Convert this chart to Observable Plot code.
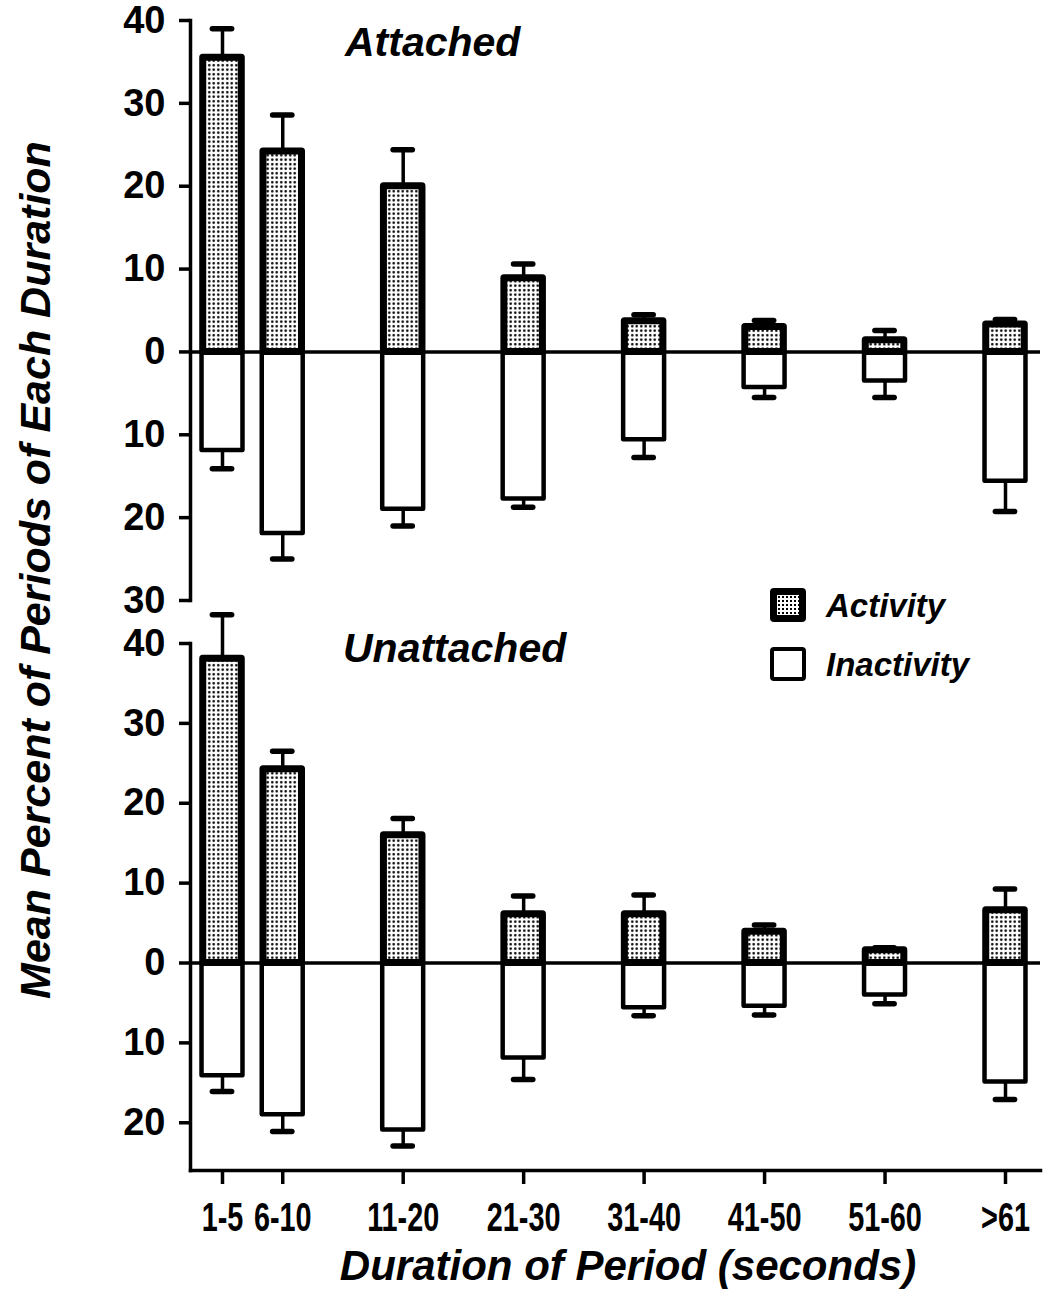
<!DOCTYPE html>
<html><head><meta charset="utf-8">
<script src="https://cdn.jsdelivr.net/npm/d3@7"></script>
<script src="https://cdn.jsdelivr.net/npm/@observablehq/plot@0.6"></script>
<style>
body{margin:0;background:#fff;}
#wrap{position:relative;width:1055px;height:1296px;background:#fff;overflow:hidden;}
.abs{position:absolute;white-space:nowrap;line-height:1;color:#000;}
.ttl{font-family:"Liberation Sans",Arial,sans-serif;font-style:italic;font-weight:600;}
.sw{position:absolute;box-sizing:border-box;border:4.5px solid #000;border-radius:4px;background:#fff;}
.sw.act{border-width:7px;background:radial-gradient(circle,#000 0.9px,transparent 1.4px) 0 0/4px 4px,#fff;}
</style></head><body>
<svg width="0" height="0" style="position:absolute"><defs>
<pattern id="dots" width="4.5" height="4.5" patternUnits="userSpaceOnUse">
<rect width="4.5" height="4.5" fill="#fff"/><circle cx="2.25" cy="2.25" r="1.25" fill="#000"/></pattern></defs></svg>
<div id="wrap"></div>
<script>
// ---- data ----
const categories = ["1-5","6-10","11-20","21-30","31-40","41-50","51-60",">61"];
const durationPos = [5,10,20,30,40,50,60,70];
const attachedActivity      = [35.5,24.2,20.0,8.9,3.7,3.0,1.4,3.3];
const attachedActivityErr   = [39.0,28.6,24.4,10.6,4.5,3.8,2.6,3.9];
const attachedInactivity    = [11.9,21.9,19.0,17.75,10.6,4.3,3.5,15.6];
const attachedInactivityErr = [14.1,25.0,21.0,18.75,12.75,5.5,5.5,19.25];
const unattachedActivity      = [38.1,24.25,16.0,6.1,6.1,3.9,1.6,6.6];
const unattachedActivityErr   = [43.6,26.5,18.1,8.4,8.5,4.75,1.9,9.25];
const unattachedInactivity    = [14.1,19.0,20.9,11.9,5.6,5.4,4.0,14.9];
const unattachedInactivityErr = [16.1,21.1,22.9,14.6,6.6,6.5,5.1,17.1];
const topTicks = [-30,-20,-10,0,10,20,30,40];
const bottomTicks = [-20,-10,0,10,20,30,40];

const wrap = document.getElementById("wrap");
const tickFont = '"Liberation Sans",Arial,sans-serif';

function rowsFor(act, actErr, inact, inactErr){
  return categories.flatMap((c,i)=>[
    {cat:c,pos:durationPos[i],type:"Activity",v:act[i],e:actErr[i]},
    {cat:c,pos:durationPos[i],type:"Inactivity",v:-inact[i],e:-inactErr[i]}
  ]);
}

function panel({rows, height, marginTop, marginBottom, y, ticks, xAxis}){
  const actRows = rows.filter(d=>d.type==="Activity");
  const inRows = rows.filter(d=>d.type==="Inactivity");
  const marks = [
    Plot.ruleX(rows,{x:"pos",y1:"v",y2:"e",stroke:"#000",strokeWidth:3.5}),
    Plot.ruleY(rows,{x1:d=>d.pos-0.8,x2:d=>d.pos+0.8,y:"e",stroke:"#000",strokeWidth:5.5,strokeLinecap:"round"}),
    Plot.rectY(inRows,{x1:d=>d.pos-1.7,x2:d=>d.pos+1.7,y1:0,y2:"v",fill:"#fff",stroke:"#000",strokeWidth:4.5,strokeLinejoin:"round"}),
    Plot.rectY(actRows,{x1:d=>d.pos-1.6,x2:d=>d.pos+1.6,y1:0,y2:"v",fill:"url(#dots)",stroke:"#000",strokeWidth:7,strokeLinejoin:"round"}),
    Plot.ruleY([0],{stroke:"#000",strokeWidth:3.5}),
    Plot.frame({anchor:"left",stroke:"#000",strokeWidth:3.5}),
    Plot.axisY({ticks, tickSize:11, tickPadding:14, strokeWidth:3.5, tickFormat:d=>Math.abs(d), fontSize:38, fontWeight:"bold", fontFamily:tickFont})
  ];
  if (xAxis) {
    marks.push(Plot.frame({anchor:"bottom",stroke:"#000",strokeWidth:3.5}));
    marks.push(Plot.axisX({ticks:durationPos, tickSize:14, tickPadding:18, strokeWidth:3.5,
      tickFormat:d=>categories[durationPos.indexOf(d)], fontSize:40, fontWeight:"bold", fontFamily:tickFont}));
  } else {
    marks.push(Plot.axisX({ticks:[], label:null}));
  }
  return Plot.plot({
    width:1055, height, marginLeft:190, marginRight:15, marginTop, marginBottom,
    x:{domain:[5,70], range:[222,1005], label:null},
    y:{...y, label:null},
    style:{background:"transparent", color:"#000"},
    marks
  });
}

const topPanel = panel({
  rows: rowsFor(attachedActivity, attachedActivityErr, attachedInactivity, attachedInactivityErr),
  height:622, marginTop:20, marginBottom:22,
  y:{domain:[-30,40], range:[600,20]}, ticks:topTicks, xAxis:false
});
topPanel.style.position="absolute"; topPanel.style.left="0px"; topPanel.style.top="0px";
wrap.appendChild(topPanel);

const bottomPanel = panel({
  rows: rowsFor(unattachedActivity, unattachedActivityErr, unattachedInactivity, unattachedInactivityErr),
  height:696, marginTop:43, marginBottom:126,
  y:{domain:[-24.6,40], range:[559,43]}, ticks:bottomTicks, xAxis:true
});
bottomPanel.style.position="absolute"; bottomPanel.style.left="0px"; bottomPanel.style.top="600px";
wrap.appendChild(bottomPanel);

// condense the x tick labels like the hand lettering
bottomPanel.querySelectorAll('g[aria-label="x-axis tick label"] text').forEach(t=>{
  const len = t.getComputedTextLength();
  t.setAttribute("textLength", (len*0.72).toFixed(1));
  t.setAttribute("lengthAdjust","spacingAndGlyphs");
});

function addText(txt, css, cls="abs ttl"){
  const d=document.createElement("div"); d.className=cls; d.textContent=txt;
  Object.assign(d.style, css); wrap.appendChild(d); return d;
}
addText("Attached",{left:"345px",top:"22px",fontSize:"41px"});
addText("Unattached",{left:"343px",top:"628px",fontSize:"41px"});
addText("Duration of Period (seconds)",{left:"628px",top:"1245px",fontSize:"42px",transform:"translateX(-50%)"});
addText("Mean Percent of Periods of Each Duration",{left:"35px",top:"570px",fontSize:"43px",fontWeight:"bold",transform:"translate(-50%,-50%) rotate(-90deg)"});

// legend
const legendItems = [{label:"Activity",cls:"sw act",top:588},{label:"Inactivity",cls:"sw",top:647}];
legendItems.forEach(it=>{
  const s=document.createElement("div"); s.className=it.cls;
  Object.assign(s.style,{left:"770px",top:it.top+"px",width:"36px",height:"34px"});
  wrap.appendChild(s);
  addText(it.label,{left:"826px",top:(it.top+1)+"px",fontSize:"33px"});
});
</script>
</body></html>
